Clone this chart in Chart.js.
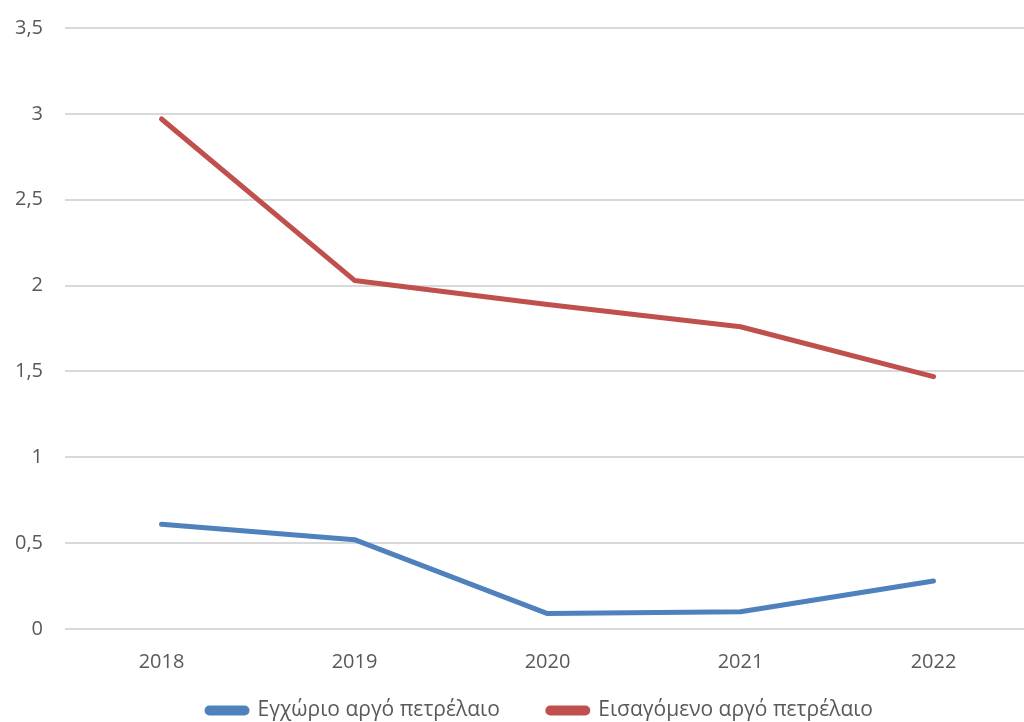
<!DOCTYPE html>
<html lang="el">
<head>
<meta charset="UTF-8">
<title>Αργό πετρέλαιο</title>
<script src="https://cdn.jsdelivr.net/npm/chart.js@4.4.0/dist/chart.umd.min.js"></script>
<style>
    html, body { margin: 0; padding: 0; background: #fff; overflow: hidden; }
    #wrap { width: 1024px; height: 722px; overflow: hidden; }
    #grafica { margin-top: -6px; }
</style>
</head>
<body>
<div id="wrap"><canvas id="grafica" width="1030" height="772"></canvas></div>
<script>
    // Δεδομένα
    const years = ["2018", "2019", "2020", "2021", "2022"];
    const domestic = [0.61, 0.52, 0.09, 0.10, 0.28];
    const imported = [2.97, 2.03, 1.89, 1.76, 1.47];
    const seriesNames = ["Εγχώριο αργό πετρέλαιο", "Εισαγόμενο αργό πετρέλαιο"];

    const textColor = "#595959";
    const font = { family: "'Open Sans', 'Noto Sans', sans-serif", size: 20 };
    const legendFont = { family: "'Open Sans', 'Noto Sans', sans-serif", size: 21 };

    // το υπόμνημα πιο κοντά στον άξονα και λίγο δεξιά, όπως στο Excel
    const legendShift = {
        id: "legendShift",
        afterLayout(chart) {
            const lg = chart.legend;
            const h = lg.bottom - lg.top;
            lg.top = chart.chartArea.bottom + 23;
            lg.bottom = lg.top + h;
            lg.left += 25;
            lg.right += 25;
        }
    };

    new Chart(document.getElementById("grafica"), {
        type: "line",
        data: {
            labels: years,
            datasets: [
                {
                    label: seriesNames[0],
                    data: domestic,
                    borderColor: "#4F81BD",
                    backgroundColor: "#4F81BD",
                    borderWidth: 5,
                    borderCapStyle: "round",
                    borderJoinStyle: "round",
                    pointRadius: 0,
                    tension: 0
                },
                {
                    label: seriesNames[1],
                    data: imported,
                    borderColor: "#C0504D",
                    backgroundColor: "#C0504D",
                    borderWidth: 5,
                    borderCapStyle: "round",
                    borderJoinStyle: "round",
                    pointRadius: 0,
                    tension: 0
                }
            ]
        },
        plugins: [legendShift],
        options: {
            responsive: false,
            animation: false,
            layout: { padding: { top: 9, right: 0, left: 0, bottom: 0 } },
            plugins: {
                tooltip: { enabled: false },
                legend: {
                    position: "bottom",
                    labels: {
                        color: textColor,
                        font: legendFont,
                        boxWidth: 40,
                        boxHeight: 5,
                        useBorderRadius: true,
                        borderRadius: 2.5,
                        padding: 48
                    }
                }
            },
            scales: {
                x: {
                    offset: true,
                    grid: { display: false },
                    border: { display: false },
                    ticks: { color: textColor, font: font, padding: 13 }
                },
                y: {
                    min: 0,
                    max: 3.5,
                    afterFit: (s) => { s.width = 65; },
                    grid: { color: "#d9d9d9", lineWidth: 2, drawTicks: false },
                    border: { display: false },
                    ticks: {
                        stepSize: 0.5,
                        color: textColor,
                        font: font,
                        padding: 22,
                        callback: (v) => String(v).replace(".", ",")
                    }
                }
            }
        }
    });
</script>
</body>
</html>
